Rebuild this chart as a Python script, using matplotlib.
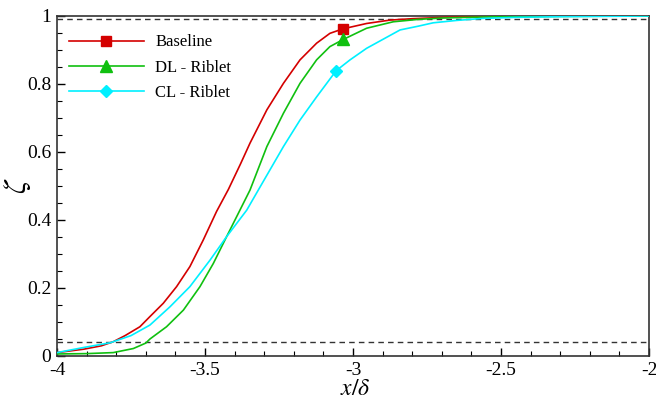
import numpy as np
import matplotlib
matplotlib.use("Agg")
from matplotlib import pyplot as plt
from matplotlib.ticker import MultipleLocator

plt.rcParams['font.family'] = ['Liberation Serif', 'DejaVu Serif']
plt.rcParams['mathtext.fontset'] = 'stix'

# intermittency curves
base_x = [-4.0, -3.91, -3.85, -3.81, -3.77, -3.72, -3.686, -3.641, -3.596, -3.551,
          -3.506, -3.461, -3.421, -3.38, -3.348, -3.291, -3.235, -3.179, -3.123,
          -3.078, -3.035, -2.954, -2.875, -2.8, -2.695, -2.6, -2.5, -2.3, -2.0]
base_y = [0.01, 0.02, 0.03, 0.042, 0.06, 0.086, 0.116, 0.155, 0.204, 0.263,
          0.341, 0.425, 0.49, 0.565, 0.626, 0.724, 0.802, 0.871, 0.92,
          0.949, 0.962, 0.978, 0.988, 0.992, 0.996, 0.998, 0.999, 1.0, 1.0]

dl_x = [-4.0, -3.9, -3.81, -3.742, -3.70, -3.686, -3.63, -3.573, -3.517, -3.472,
        -3.427, -3.382, -3.348, -3.291, -3.235, -3.179, -3.123, -3.078, -3.033,
        -2.954, -2.864, -2.78, -2.7, -2.617, -2.5, -2.3, -2.0]
dl_y = [0.006, 0.007, 0.01, 0.022, 0.038, 0.05, 0.086, 0.135, 0.204, 0.272,
        0.351, 0.429, 0.488, 0.616, 0.714, 0.802, 0.871, 0.91, 0.931,
        0.964, 0.983, 0.99, 0.994, 0.996, 0.998, 0.999, 1.0]

cl_x = [-4.0, -3.91, -3.82, -3.75, -3.686, -3.618, -3.551, -3.483, -3.427, -3.359,
        -3.32, -3.235, -3.179, -3.123, -3.057, -3.01, -2.954, -2.841, -2.78,
        -2.729, -2.65, -2.56, -2.45, -2.3, -2.0]
cl_y = [0.01, 0.025, 0.039, 0.06, 0.091, 0.145, 0.204, 0.282, 0.351, 0.429,
        0.488, 0.616, 0.694, 0.762, 0.839, 0.871, 0.905, 0.959, 0.97,
        0.98, 0.987, 0.993, 0.996, 0.998, 1.0]

# which sample gets the symbol
base_mark = [20]
dl_mark = [18]
cl_mark = [14]

thresh_hi = 0.99
thresh_lo = 0.04

fig = plt.figure(figsize=(6.56, 3.99), dpi=100)
ax = fig.add_axes([57/656, 1 - 356/399, 592/656, 340/399])

ax.axhline(thresh_hi, color='#333333', ls=(0, (4, 3)), lw=1.0, zorder=1)
ax.axhline(thresh_lo, color='#333333', ls=(0, (4, 3)), lw=1.0, zorder=1)

kw = dict(lw=1.2, solid_joinstyle='round', zorder=3)
ax.plot(base_x, base_y, color='#d40000', marker='s', ms=7,
        markevery=base_mark, label='Baseline', **kw)
ax.plot(dl_x, dl_y, color='#10c010', marker='^', ms=8,
        markevery=dl_mark, label='DL - Riblet', **kw)
ax.plot(cl_x, cl_y, color='#00f0ff', marker='D', ms=6.5,
        markevery=cl_mark, label='CL - Riblet', **kw)

ax.set_xlim(-4, -2)
ax.set_ylim(0, 1)
ax.xaxis.set_major_locator(MultipleLocator(0.5))
ax.xaxis.set_minor_locator(MultipleLocator(0.1))
ax.yaxis.set_major_locator(MultipleLocator(0.2))
ax.yaxis.set_minor_locator(MultipleLocator(0.05))
ax.tick_params(which='both', direction='in', top=False, right=False)
ax.tick_params(which='major', length=6, width=1, labelsize=14, pad=4)
ax.tick_params(which='minor', length=3.5, width=0.8)

def fmt(v, pos):
    return '%g' % v
ax.xaxis.set_major_formatter(plt.FuncFormatter(fmt))
ax.yaxis.set_major_formatter(plt.FuncFormatter(fmt))

for sp in ax.spines.values():
    sp.set_linewidth(1.2)
    sp.set_color('#333333')

ax.set_xlabel(r'$x/\delta$', fontsize=17)
ax.xaxis.set_label_coords((355 - 57) / 592, -(379 - 356) / 340)
ax.set_ylabel(r'$\zeta$', fontsize=22)
ax.yaxis.set_label_coords((33 - 57) / 592, 0.5)

leg = ax.legend(loc='upper left', bbox_to_anchor=(0.0, 0.98), frameon=False,
                fontsize=12, handlelength=4.5, handletextpad=0.7,
                borderaxespad=0.3, labelspacing=0.55)

fig.savefig('out.png', dpi=100)
